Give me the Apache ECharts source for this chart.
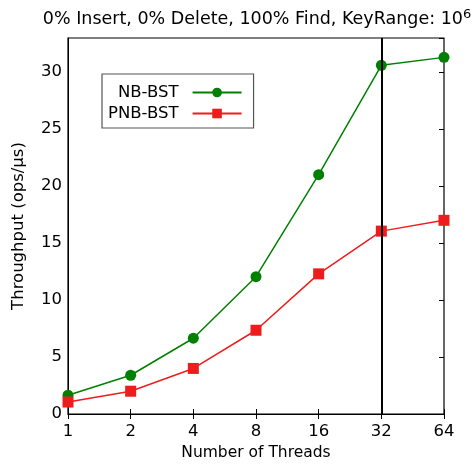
<!DOCTYPE html>
<html><head><meta charset="utf-8">
<script src="https://cdn.jsdelivr.net/npm/echarts@6/dist/echarts.min.js"></script>
<style>html,body{margin:0;padding:0;background:#fff}#c{width:472px;height:468px}</style>
</head><body><div id="c"></div>
<script>
const threads = ['1','2','4','8','16','32','64'];
const nbBst = [1.65, 3.4, 6.65, 12.05, 21.0, 30.6, 31.3];
const pnbBst = [1.05, 2.0, 4.0, 7.35, 12.3, 16.05, 17.0];
const yTicks = [0, 5, 10, 15, 20, 25, 30];
const markX = '32';

const font = 'DejaVu Sans';
const chart = echarts.init(document.getElementById('c'));
chart.setOption({
  animation: false,
  title: {
    text: '0% Insert, 0% Delete, 100% Find, KeyRange: 10{sup|6}',
    left: 252, top: 3, textAlign: 'center',
    textStyle: { fontFamily: font, fontSize: 17.5, fontWeight: 'normal', color: '#000',
      rich: { sup: { fontFamily: font, fontSize: 13, verticalAlign: 'top', padding: [0,0,10,0], color:'#000' } } }
  },
  grid: { left: 68, right: 28, top: 38, bottom: 54, show: true, borderColor: '#000', borderWidth: 1.2 },
  legend: {
    left: 102, top: 74, orient: 'vertical', align: 'right',
    borderColor: '#555', borderWidth: 1.2, padding: [10, 11, 6, 6],
    itemWidth: 49, itemHeight: 12, itemGap: 4,
    textStyle: { fontFamily: font, fontSize: 16.5, color: '#000', padding: [0, 9, 0, 0] },
    data: ['NB-BST', 'PNB-BST']
  },
  xAxis: [{
    type: 'category', data: threads, boundaryGap: false,
    name: 'Number of Threads', nameLocation: 'middle', nameGap: 30,
    nameTextStyle: { fontFamily: font, fontSize: 15.5, color: '#000' },
    axisLine: { show: true, lineStyle: { color: '#000' } },
    axisTick: { inside: true, length: 5, alignWithLabel: true, lineStyle: { color: '#000' } },
    axisLabel: { fontFamily: font, fontSize: 16.5, color: '#000', margin: 9 },
    splitLine: { show: false }
  }, {
    type: 'category', data: threads, boundaryGap: false, position: 'top',
    axisLine: { show: false }, axisLabel: { show: false },
    axisTick: { inside: true, length: 5, lineStyle: { color: '#000' } }
  }],
  yAxis: [{
    type: 'value', min: 0, max: 33, interval: 5,
    name: 'Throughput (ops/μs)', nameLocation: 'middle', nameGap: 41,
    nameTextStyle: { fontFamily: font, fontSize: 16.5, color: '#000' },
    axisLine: { show: true, lineStyle: { color: '#000' } },
    axisTick: { inside: true, length: 5, lineStyle: { color: '#000' } },
    axisLabel: { fontFamily: font, fontSize: 16.5, color: '#000', margin: 6,
      formatter: v => yTicks.includes(v) ? String(v) : '' },
    splitLine: { show: false }
  }, {
    type: 'value', min: 0, max: 33, interval: 5, position: 'right',
    axisLine: { show: false }, axisLabel: { show: false },
    axisTick: { show: true, inside: true, length: 5, lineStyle: { color: '#000' } },
    splitLine: { show: false }
  }],
  series: [{
    name: 'NB-BST', type: 'line', data: nbBst,
    symbol: 'circle', symbolSize: 11,
    lineStyle: { color: '#008000', width: 1.5 },
    itemStyle: { color: '#008000' },
    markLine: { silent: true, symbol: 'none', label: { show: false },
      lineStyle: { color: '#000', width: 2, type: 'solid' },
      data: [{ xAxis: markX }] }
  }, {
    name: 'PNB-BST', type: 'line', data: pnbBst,
    symbol: 'rect', symbolSize: 11,
    lineStyle: { color: '#ee1c1c', width: 1.5 },
    itemStyle: { color: '#ee1c1c' }
  }]
});
</script></body></html>
